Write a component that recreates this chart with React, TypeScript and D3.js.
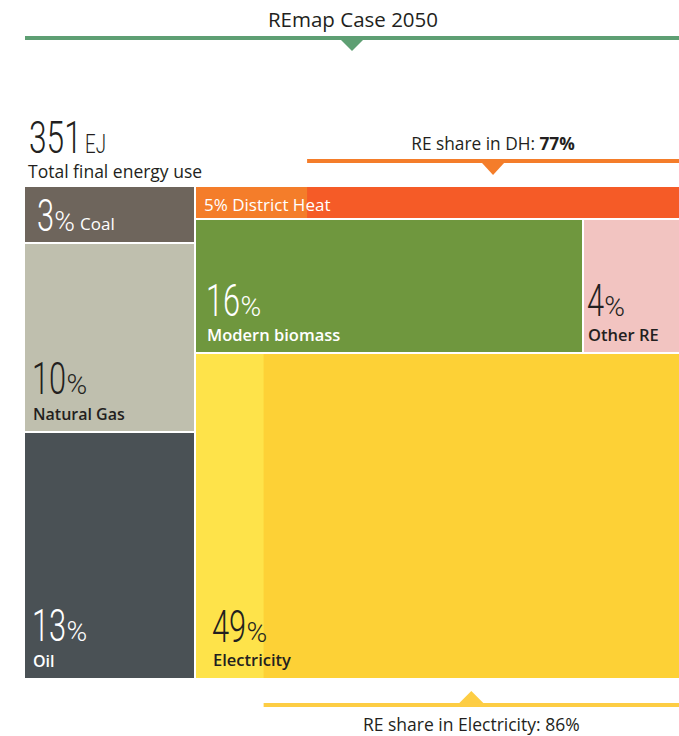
import React, { useMemo } from 'react';
import * as d3 from 'd3';

const title = 'REmap Case 2050';
const totalEJ = '351';
const totalUnit = 'EJ';
const totalLabel = 'Total final energy use';

const fossilNames = ['Coal', 'Natural Gas', 'Oil'];
const fossilValues = [3, 10, 13];
const fossilColors = ['#6E655C', '#BFBFAE', '#4A5155'];
const fossilText = ['#FFFFFF', '#231F20', '#FFFFFF'];

const districtHeat = { name: 'District Heat', value: 5 };
const directNames = ['Modern biomass', 'Other RE'];
const directValues = [16, 4];
const directColors = ['#6F973E', '#F2C4C1'];
const directText = ['#FFFFFF', '#231F20'];
const electricity = { name: 'Electricity', value: 49 };

const reShareDH = 77;
const reShareElec = 86;

const W = 679;
const H = 736;
const X0 = 25;
const Y0 = 187;
const X1 = 679;
const Y1 = 678;

const NUM_FONT = 'Roboto';
const LBL_FONT = '"Open Sans", Lato, sans-serif';
const DARK = '#231F20';

function BigNum({ x, y, num, fill }: { x: number; y: number; num: string; fill: string }) {
  const digitW = 17.3;
  return (
    <g>
      <text transform={`translate(${x},${y}) scale(0.7,1)`} fontFamily={NUM_FONT} fontWeight={300} fontSize={44} fill={fill}>
        {num}
      </text>
      <text x={x + num.length * digitW} y={y} fontFamily={NUM_FONT} fontWeight={300} fontSize={28} fill={fill}>
        %
      </text>
    </g>
  );
}

export default function App() {
  const leaves = useMemo(() => {
    const data: any = {
      name: 'root',
      children: [
        { name: 'Fossil', children: fossilNames.map((n, i) => ({ name: n, value: fossilValues[i] })) },
        {
          name: 'Other',
          children: [
            { name: districtHeat.name, value: districtHeat.value },
            { name: 'Direct RE', children: directNames.map((n, i) => ({ name: n, value: directValues[i] })) },
            { name: electricity.name, value: electricity.value },
          ],
        },
      ],
    };
    const root = d3.hierarchy(data).sum((d: any) => d.value || 0);
    d3.treemap().size([X1 - X0, Y1 - Y0]).paddingInner(2).round(true).tile(d3.treemapSliceDice)(root as any);
    return (root.leaves() as any[]).map((l) => ({
      name: l.data.name,
      value: l.data.value,
      x0: l.x0 + X0,
      x1: l.x1 + X0,
      y0: l.y0 + Y0,
      y1: l.y1 + Y0,
    }));
  }, []);

  const get = (n: string) => leaves.find((l) => l.name === n)!;
  const dh = get(districtHeat.name);
  const el = get(electricity.name);
  const dhSplit = d3.scaleLinear().domain([0, 100]).range([dh.x0, dh.x1]);
  const elSplit = d3.scaleLinear().domain([0, 100]).range([el.x0, el.x1]);
  const dhRE0 = dhSplit(100 - reShareDH);
  const elRE0 = elSplit(100 - reShareElec);

  const greenC = (X0 + X1) / 2;
  const dhC = (dhRE0 + X1) / 2;
  const elC = (elRE0 + X1) / 2;

  return (
    <svg width={W} height={H} style={{ position: 'absolute', left: 0, top: 0, background: '#fff' }}>
      {/* title */}
      <text x={greenC + 1} y={27} textAnchor="middle" fontFamily={LBL_FONT} fontWeight={500} fontSize={20.5} fill={DARK}>
        {title}
      </text>
      <rect x={X0} y={36} width={X1 - X0} height={4} fill="#5E9F73" />
      <path d={`M${greenC - 11},40 L${greenC + 11},40 L${greenC},51 Z`} fill="#5E9F73" />

      {/* total */}
      <text transform={`translate(29,153) scale(0.72,1)`} fontFamily={NUM_FONT} fontWeight={300} fontSize={44} fill={DARK}>
        {totalEJ}
      </text>
      <text transform={`translate(85,153) scale(0.72,1)`} fontFamily={NUM_FONT} fontWeight={300} fontSize={26} fill={DARK}>
        {totalUnit}
      </text>
      <text x={28} y={178} fontFamily={LBL_FONT} fontSize={17.5} fill={DARK}>
        {totalLabel}
      </text>

      {/* DH share */}
      <text x={dhC} y={150} textAnchor="middle" fontFamily={LBL_FONT} fontSize={17.3} fill={DARK}>
        RE share in DH: <tspan fontWeight={700}>{reShareDH}%</tspan>
      </text>
      <rect x={dhRE0} y={159} width={X1 - dhRE0} height={4} fill="#F47D2A" />
      <path d={`M${dhC - 11},163 L${dhC + 11},163 L${dhC},175 Z`} fill="#F47D2A" />

      {/* Electricity share */}
      <rect x={elRE0} y={703} width={X1 - elRE0} height={4} fill="#FDCD44" />
      <path d={`M${elC - 12},703 L${elC + 12},703 L${elC},691 Z`} fill="#FDCD44" />
      <text x={elC} y={731} textAnchor="middle" fontFamily={LBL_FONT} fontSize={17.5} fill={DARK}>
        RE share in Electricity: {reShareElec}%
      </text>

      {/* fossil */}
      {fossilNames.map((n, i) => {
        const l = get(n);
        return <rect key={n} x={l.x0} y={l.y0} width={l.x1 - l.x0} height={l.y1 - l.y0} fill={fossilColors[i]} />;
      })}
      {/* DH */}
      <rect x={dh.x0} y={dh.y0} width={dh.x1 - dh.x0} height={dh.y1 - dh.y0} fill="#F47D2A" />
      <rect x={dhRE0} y={dh.y0} width={dh.x1 - dhRE0} height={dh.y1 - dh.y0} fill="#F55B27" />
      {/* direct RE */}
      {directNames.map((n, i) => {
        const l = get(n);
        return <rect key={n} x={l.x0} y={l.y0} width={l.x1 - l.x0} height={l.y1 - l.y0} fill={directColors[i]} />;
      })}
      {/* electricity */}
      <rect x={el.x0} y={el.y0} width={el.x1 - el.x0} height={el.y1 - el.y0} fill="#FEE34A" />
      <rect x={elRE0} y={el.y0} width={el.x1 - elRE0} height={el.y1 - el.y0} fill="#FDD136" />

      {/* labels */}
      {(() => {
        const c = get('Coal');
        return (
          <g>
            <BigNum x={c.x0 + 12} y={c.y0 + 44} num={String(c.value)} fill="#fff" />
            <text x={c.x0 + 55} y={c.y0 + 43} fontFamily={LBL_FONT} fontWeight={500} fontSize={17} fill="#fff">
              {c.name}
            </text>
          </g>
        );
      })()}
      {['Natural Gas', 'Oil'].map((n) => {
        const l = get(n);
        const fill = fossilText[fossilNames.indexOf(n)];
        return (
          <g key={n}>
            <BigNum x={l.x0 + 7} y={l.y1 - 37} num={String(l.value)} fill={fill} />
            <text x={l.x0 + 8} y={l.y1 - 11} fontFamily={LBL_FONT} fontWeight={600} fontSize={16} fill={fill}>
              {n}
            </text>
          </g>
        );
      })}
      <text x={dh.x0 + 8} y={dh.y1 - 7} fontFamily={LBL_FONT} fontWeight={500} fontSize={17} fill="#fff">
        {districtHeat.value}% {districtHeat.name}
      </text>
      {directNames.map((n, i) => {
        const l = get(n);
        return (
          <g key={n}>
            <BigNum x={l.x0 + (i === 0 ? 10 : 3)} y={l.y1 - 36} num={String(l.value)} fill={directText[i]} />
            <text x={l.x0 + (i === 0 ? 11 : 4)} y={l.y1 - 11} fontFamily={LBL_FONT} fontWeight={600} fontSize={16.5} fill={directText[i]}>
              {n}
            </text>
          </g>
        );
      })}
      <BigNum x={el.x0 + 16} y={el.y1 - 36} num={String(el.value)} fill={DARK} />
      <text x={el.x0 + 17} y={el.y1 - 12} fontFamily={LBL_FONT} fontWeight={600} fontSize={16.5} fill={DARK}>
        {electricity.name}
      </text>
    </svg>
  );
}
